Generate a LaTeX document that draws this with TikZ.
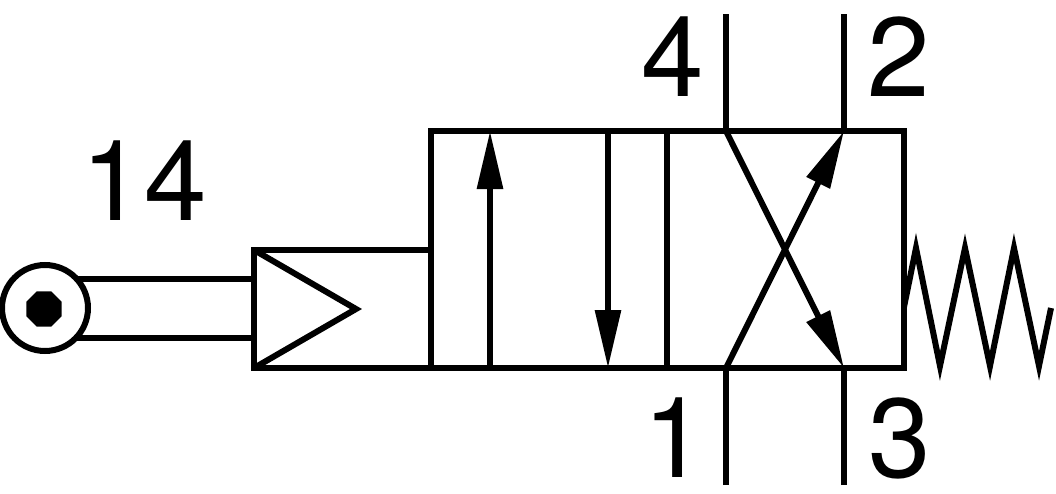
\documentclass[tikz,border=0pt]{standalone}
\usepackage{fontspec}
\setmainfont{TeX Gyre Heros}
\usetikzlibrary{arrows.meta,shapes.geometric}
\tikzset{
    valveline/.style={line width=0.06cm,line join=miter},
    flowarrow/.style={valveline,-{Triangle[length=0.58cm,width=0.25cm]}},
    portlabel/.style={font=\fontsize{32}{32}\selectfont,inner sep=0pt},
}
\begin{document}
\begin{tikzpicture}
    \useasboundingbox (0,0) rectangle (10.56,4.93);
    \path(1.44,3.12) node[portlabel](labelA){14};
    \path(6.73,4.36) node[portlabel](labelB){4};
    \path(8.99,4.36) node[portlabel](labelC){2};
    \path(6.75,0.55) node[portlabel](labelD){1};
    \path(9.00,0.55) node[portlabel](labelE){3};
    %%%%%%%%%%%%%%%%%%%%%%%%%%%%%%%%%%
    \coordinate (boxNW) at (4.31,3.62);
    \coordinate (boxNE) at (9.04,3.62);
    \coordinate (boxSW) at (4.31,1.25);
    \coordinate (boxSE) at (9.04,1.25);
    \coordinate (midN) at (6.67,3.62);
    \coordinate (midS) at (6.67,1.25);
    \coordinate (portA) at (7.26,3.62);
    \coordinate (portB) at (8.44,3.62);
    \coordinate (portC) at (7.26,1.25);
    \coordinate (portD) at (8.44,1.25);
    \coordinate (endA) at (7.26,4.79);
    \coordinate (endB) at (8.44,4.79);
    \coordinate (endC) at (7.26,0.08);
    \coordinate (endD) at (8.44,0.08);
    \coordinate (upS) at (4.90,1.25);
    \coordinate (upN) at (4.90,3.62);
    \coordinate (downN) at (6.08,3.62);
    \coordinate (downS) at (6.08,1.25);
    \coordinate (pilotNW) at (2.54,2.43);
    \coordinate (pilotNE) at (4.31,2.43);
    \coordinate (pilotSW) at (2.54,1.25);
    \coordinate (pilotTip) at (3.56,1.84);
    \coordinate (rodA) at (2.54,2.14);
    \coordinate (rodB) at (2.54,1.55);
    \coordinate (rodAstart) at (0.74,2.14);
    \coordinate (rodBstart) at (0.74,1.55);
    %%%%%%%%%%%%%%%%%%%%%%%%%%%%%%%%%%
    \draw[valveline] (boxSW) -- (boxNW) -- (boxNE) -- (boxSE) -- (pilotSW) -- (pilotNW) -- (pilotNE); % Corps
    \draw[valveline] (midN) -- (midS); % Separation
    \draw[valveline] (endA) -- (portA); % Orifice 4
    \draw[valveline] (endB) -- (portB); % Orifice 2
    \draw[valveline] (endC) -- (portC); % Orifice 1
    \draw[valveline] (endD) -- (portD); % Orifice 3
    \draw[flowarrow] (upS) -- (upN); % Fleche haut
    \draw[flowarrow] (downN) -- (downS); % Fleche bas
    \draw[flowarrow] (portC) -- (portB); % Croix
    \draw[flowarrow] (portA) -- (portD); % Croix
    %%%%%%%%%%%%%%%%%%%%%%%%%%%%%%%%%%
    \draw[valveline] (pilotNW) -- (pilotTip) -- (pilotSW); % Triangle
    \draw[valveline] (rodAstart) -- (rodA); % Tige
    \draw[valveline] (rodBstart) -- (rodB); % Tige
    \path(0.45,1.85) node[valveline,draw,circle,fill=white,minimum size=0.86cm,inner sep=0pt,outer sep=0pt](roller){}; % Galet
    \path(0.44,1.84) node[regular polygon,regular polygon sides=8,fill=black,minimum size=0.38cm,inner sep=0pt,outer sep=0pt](axle){};
    %%%%%%%%%%%%%%%%%%%%%%%%%%%%%%%%%%
    \draw[valveline] (9.04,1.86) -- (9.16,2.45) -- (9.40,1.27) -- (9.65,2.45) -- (9.90,1.27) -- (10.14,2.45) -- (10.39,1.27) -- (10.51,1.85); % Ressort
\end{tikzpicture}
\end{document}
